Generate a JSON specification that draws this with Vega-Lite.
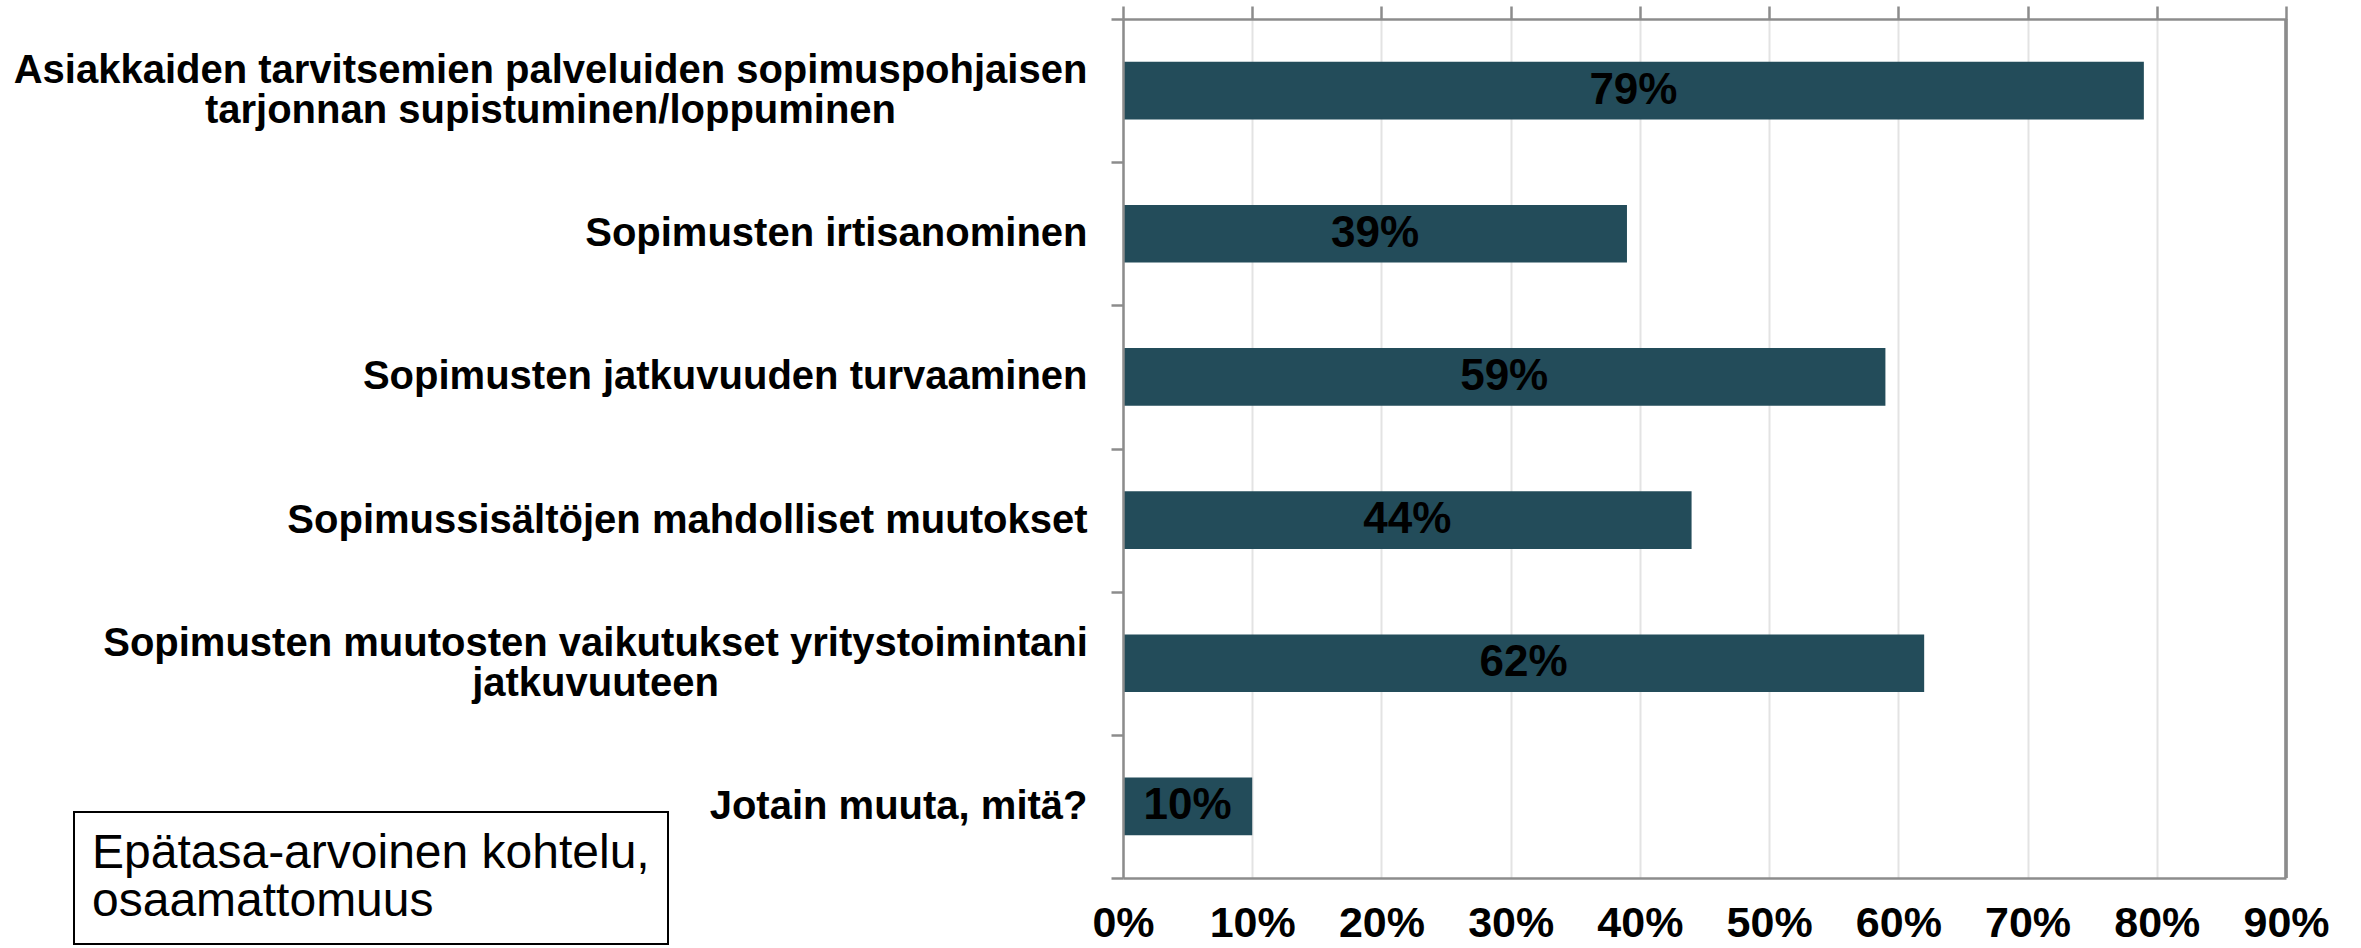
{
  "$schema": "https://vega.github.io/schema/vega-lite/v6.json",
  "autosize": "none",
  "width": 1163,
  "height": 859,
  "padding": {"left": 1123, "top": 19, "right": 75, "bottom": 70},
  "background": "white",
  "config": {
    "view": {"stroke": null},
    "font": "Liberation Sans"
  },
  "data": {
    "values": [
      {"kategoria": "Asiakkaiden tarvitsemien palveluiden sopimuspohjaisen\ntarjonnan supistuminen/loppuminen", "osuus": 0.79},
      {"kategoria": "Sopimusten irtisanominen", "osuus": 0.39},
      {"kategoria": "Sopimusten jatkuvuuden turvaaminen", "osuus": 0.59},
      {"kategoria": "Sopimussisältöjen mahdolliset muutokset", "osuus": 0.44},
      {"kategoria": "Sopimusten muutosten vaikutukset yritystoimintani\njatkuvuuteen", "osuus": 0.62},
      {"kategoria": "Jotain muuta, mitä?", "osuus": 0.10}
    ]
  },
  "layer": [
    {
      "mark": {"type": "bar", "height": {"band": 0.403}},
      "encoding": {
        "y": {
          "field": "kategoria",
          "type": "nominal",
          "sort": null,
          "scale": {"paddingInner": 0, "paddingOuter": 0},
          "axis": {
            "title": null,
            "orient": "left",
            "zindex": 1,
            "domainColor": "#8c8c8c",
            "domainWidth": 2.5,
            "tickColor": "#8c8c8c",
            "tickWidth": 2.5,
            "tickSize": 12,
            "tickBand": "extent",
            "grid": false,
            "labelFont": "Liberation Sans",
            "labelFontSize": 40,
            "labelFontWeight": "bold",
            "labelColor": "#000000",
            "labelLimit": 3000,
            "labelPadding": 24,
            "labelOverlap": false,
            "labelLineHeight": 40,
            "labelExpr": "isString(datum.value) ? split(datum.value, '\\n') : ''",
            "encoding": {
              "labels": {
                "align": {
                  "condition": {"test": "isString(datum.value) && indexof(datum.value, '\\n') >= 0", "value": "center"},
                  "value": "right"
                },
                "dx": {
                  "condition": [
                    {"test": "isString(datum.value) && indexof(datum.value, 'Asiakkaiden') == 0", "value": -537},
                    {"test": "isString(datum.value) && indexof(datum.value, 'Sopimusten muutosten') == 0", "value": -492}
                  ],
                  "value": 0
                },
                "dy": {
                  "condition": {"test": "isString(datum.value) && indexof(datum.value, '\\n') >= 0", "value": -20},
                  "value": 0
                }
              }
            }
          }
        },
        "x": {
          "field": "osuus",
          "type": "quantitative",
          "scale": {"domain": [0, 0.9], "nice": false, "zero": true},
          "axis": {
            "title": null,
            "orient": "top",
            "values": [0, 0.1, 0.2, 0.3, 0.4, 0.5, 0.6, 0.7, 0.8, 0.9],
            "labels": false,
            "tickSize": 13,
            "tickColor": "#8c8c8c",
            "tickWidth": 2.5,
            "domainColor": "#8c8c8c",
            "domainWidth": 2.5,
            "grid": true,
            "gridColor": "#e3e3e3",
            "gridWidth": 2
          }
        },
        "color": {
          "datum": "Epätasa-arvoinen kohtelu,\nosaamattomuus",
          "type": "nominal",
          "scale": {"range": ["#234c5a"]},
          "legend": {
            "title": null,
            "orient": "none",
            "legendX": -1049,
            "legendY": 793,
            "strokeColor": "#000000",
            "fillColor": "#ffffff",
            "padding": 18,
            "symbolSize": 0,
            "symbolStrokeWidth": 0,
            "symbolOpacity": 0,
            "labelOffset": -48,
            "labelFont": "Liberation Sans",
            "labelFontSize": 48,
            "labelFontWeight": "normal",
            "labelColor": "#000000",
            "labelLimit": 3000,
            "labelExpr": "split(datum.label, '\\n')",
            "encoding": {
              "legend": {"strokeWidth": {"value": 2}},
              "labels": {"lineHeight": {"value": 48}}
            }
          }
        }
      }
    },
    {
      "mark": {
        "type": "text",
        "font": "Liberation Sans",
        "fontSize": 44,
        "fontWeight": "bold",
        "color": "#000000",
        "align": "center",
        "baseline": "middle"
      },
      "encoding": {
        "y": {"field": "kategoria", "type": "nominal", "sort": null},
        "x": {
          "field": "osuus",
          "type": "quantitative",
          "scale": {"domain": [0, 1.8], "nice": false, "zero": true},
          "axis": null
        },
        "text": {"field": "osuus", "type": "quantitative", "format": ".0%"}
      }
    },
    {
      "mark": {"type": "rule", "color": "#8c8c8c", "strokeWidth": 2.5},
      "encoding": {
        "x": {
          "datum": 0.9,
          "type": "quantitative",
          "scale": {"domain": [0, 0.9], "nice": false, "zero": true},
          "axis": {
            "title": null,
            "orient": "bottom",
            "values": [0, 0.1, 0.2, 0.3, 0.4, 0.5, 0.6, 0.7, 0.8, 0.9],
            "format": ".0%",
            "ticks": false,
            "grid": false,
            "domainColor": "#8c8c8c",
            "domainWidth": 2.5,
            "labelFont": "Liberation Sans",
            "labelFontSize": 43,
            "labelFontWeight": "bold",
            "labelColor": "#000000",
            "labelPadding": 24,
            "labelFlush": false,
            "labelOverlap": false
          }
        }
      }
    }
  ],
  "resolve": {"scale": {"x": "independent"}}
}
